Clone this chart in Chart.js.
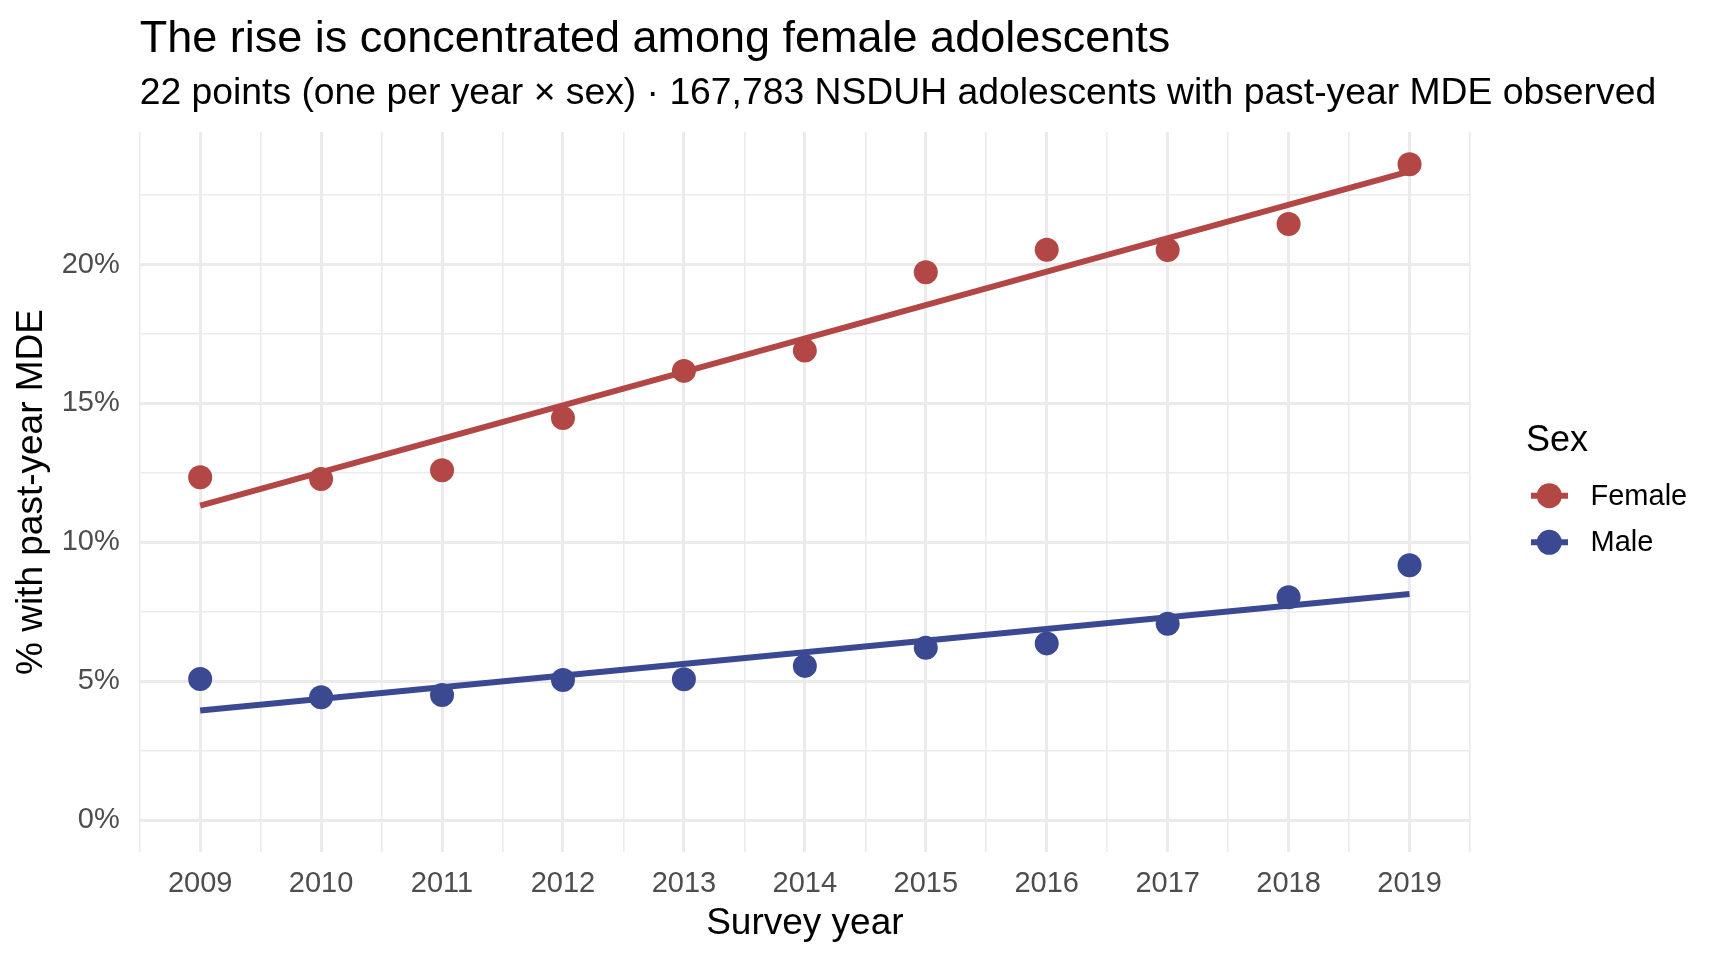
<!DOCTYPE html>
<html>
<head>
<meta charset="utf-8">
<script src="https://cdn.jsdelivr.net/npm/chart.js@4/dist/chart.umd.min.js"></script>
<style>
  html, body { margin: 0; padding: 0; background: #fff; }
  #wrap { width: 1728px; height: 960px; }
</style>
</head>
<body>
<div id="wrap"><canvas id="chart" width="1728" height="960"></canvas></div>
<script>
const FONT = "'Liberation Sans', Arial, Helvetica, sans-serif";

// survey years and observed % with past-year MDE
const years = [2009, 2010, 2011, 2012, 2013, 2014, 2015, 2016, 2017, 2018, 2019];
const femalePct = [12.34, 12.28, 12.59, 14.47, 16.17, 16.90, 19.72, 20.53, 20.52, 21.46, 23.61];
const malePct = [5.08, 4.42, 4.50, 5.04, 5.07, 5.55, 6.20, 6.36, 7.07, 8.02, 9.17];

// fitted trend lines, read at the two ends
const fitYears = [2009, 2019];
const femaleFit = [11.32, 23.35];
const maleFit = [3.94, 8.14];

const sexes = ['Female', 'Male'];
const sexColors = ['#B24745', '#3B4992'];

const yTicks = [0, 2.5, 5, 7.5, 10, 12.5, 15, 17.5, 20, 22.5];
const xTicks = years.flatMap(y => [y - 0.5, y]).concat([years[years.length - 1] + 0.5]);

const TITLE = 'The rise is concentrated among female adolescents';
const SUBTITLE = '22 points (one per year × sex) · 167,783 NSDUH adolescents with past-year MDE observed';

const GRID = '#EBEBEB';
const TICK_COLOR = '#4D4D4D';

function pts(xs, ys) {
  return xs.map((x, i) => ({ x: x, y: ys[i] }));
}

// title, subtitle and the Sex legend (ggplot style, aligned to the panel)
const decorPlugin = {
  id: 'decor',
  afterDraw(chart) {
    const ctx = chart.ctx;
    const left = chart.chartArea.left;
    ctx.save();
    ctx.fillStyle = '#000';
    ctx.textAlign = 'left';
    ctx.textBaseline = 'alphabetic';
    ctx.font = `45px ${FONT}`;
    ctx.fillText(TITLE, left, 52.3);
    ctx.font = `37.3px ${FONT}`;
    ctx.fillText(SUBTITLE, left, 104);

    ctx.font = `36px ${FONT}`;
    ctx.fillText('Sex', 1526, 450.7);

    sexes.forEach((name, i) => {
      const cy = 495.7 + i * 46.6;
      ctx.strokeStyle = sexColors[i];
      ctx.lineWidth = 6;
      ctx.beginPath();
      ctx.moveTo(1531, cy);
      ctx.lineTo(1568, cy);
      ctx.stroke();
      ctx.fillStyle = sexColors[i];
      ctx.beginPath();
      ctx.arc(1549.3, cy, 12.5, 0, Math.PI * 2);
      ctx.fill();
      ctx.fillStyle = '#000';
      ctx.font = `29px ${FONT}`;
      ctx.textBaseline = 'middle';
      ctx.fillText(name, 1590.5, cy + 1);
    });
    ctx.restore();
  }
};

new Chart(document.getElementById('chart'), {
  type: 'line',
  data: {
    datasets: [
      {
        label: 'Female fit',
        data: pts(fitYears, femaleFit),
        borderColor: sexColors[0],
        borderWidth: 6,
        pointRadius: 0,
        fill: false
      },
      {
        label: 'Male fit',
        data: pts(fitYears, maleFit),
        borderColor: sexColors[1],
        borderWidth: 6,
        pointRadius: 0,
        fill: false
      },
      {
        label: 'Female',
        data: pts(years, femalePct),
        showLine: false,
        pointRadius: 12,
        pointBorderWidth: 0,
        pointBackgroundColor: sexColors[0],
        borderColor: sexColors[0]
      },
      {
        label: 'Male',
        data: pts(years, malePct),
        showLine: false,
        pointRadius: 12,
        pointBorderWidth: 0,
        pointBackgroundColor: sexColors[1],
        borderColor: sexColors[1]
      }
    ]
  },
  options: {
    responsive: false,
    animation: false,
    devicePixelRatio: 1,
    layout: { padding: { top: 132, right: 258, bottom: 0, left: 0 } },
    scales: {
      x: {
        type: 'linear',
        min: 2008.5,
        max: 2019.5,
        afterBuildTicks: s => { s.ticks = xTicks.map(v => ({ value: v })); },
        afterFit: s => { s.height = 108; },
        ticks: {
          autoSkip: false,
          maxRotation: 0,
          padding: 15,
          color: TICK_COLOR,
          font: { family: FONT, size: 29 },
          callback: v => Number.isInteger(v) ? String(v) : ''
        },
        grid: {
          color: GRID,
          drawTicks: false,
          lineWidth: c => Number.isInteger(c.tick.value) ? 3 : 1.6
        },
        border: { display: false },
        title: {
          display: true,
          text: 'Survey year',
          color: '#000',
          font: { family: FONT, size: 37 },
          padding: { top: 14, bottom: 14 }
        }
      },
      y: {
        type: 'linear',
        min: -1.15,
        max: 24.77,
        afterBuildTicks: s => { s.ticks = yTicks.map(v => ({ value: v })); },
        afterFit: s => { s.width = 139.7; },
        ticks: {
          padding: 20,
          color: TICK_COLOR,
          font: { family: FONT, size: 29 },
          callback: v => v % 5 === 0 ? v + '%' : ''
        },
        grid: {
          color: GRID,
          drawTicks: false,
          lineWidth: c => c.tick.value % 5 === 0 ? 3 : 1.6
        },
        border: { display: false },
        title: {
          display: true,
          text: '% with past-year MDE',
          color: '#000',
          font: { family: FONT, size: 37 },
          padding: { top: 10, bottom: 10 }
        }
      }
    },
    plugins: {
      legend: { display: false },
      tooltip: { enabled: false },
      title: { display: false },
      subtitle: { display: false }
    }
  },
  plugins: [decorPlugin]
});
</script>
</body>
</html>
